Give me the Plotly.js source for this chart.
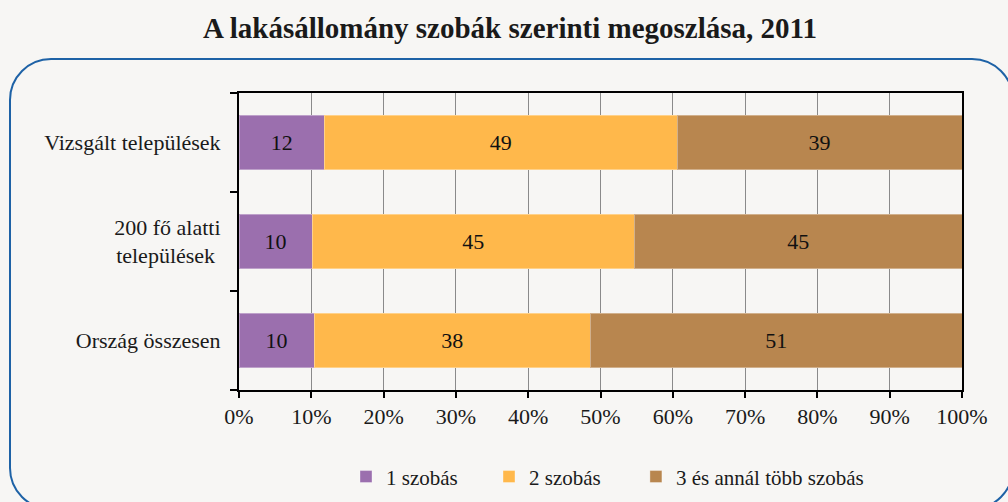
<!DOCTYPE html>
<html>
<head>
<meta charset="utf-8">
<script src="https://cdn.plot.ly/plotly-3.0.1.min.js"></script>
<style>
  html, body { margin:0; padding:0; background:#f7f6f4; }
  #wrap { position:relative; width:1008px; height:502px; overflow:hidden; background:#f7f6f4; }
  #frame { position:absolute; left:9px; top:58px; width:1005px; height:452px; border:2px solid #1e62a6; border-radius:42px; box-sizing:border-box; }
  #chart { position:absolute; left:0; top:0; width:1008px; height:502px; }
</style>
</head>
<body>
<div id="wrap">
  <div id="frame"></div>
  <div id="chart"></div>
</div>
<script>
// Categories (top to bottom in the picture)
var categories = ['Vizsgált települések', '200 fő alatti<br>települések ', 'Ország összesen'];
// Shares (%)
var oneRoom   = [11.8, 10.1, 10.4];
var twoRoom   = [48.8, 44.6, 38.2];
var threePlus = [39.4, 45.3, 51.4];
// Data labels as printed
var oneLabels   = ['12', '10', '10'];
var twoLabels   = ['49', '45', '38'];
var threeLabels = ['39', '45', '51'];
var seriesNames = ['1 szobás', '2 szobás', '3 és annál több szobás'];
var xTicks = [0, 10, 20, 30, 40, 50, 60, 70, 80, 90, 100];
var xTickLabels = ['0%', '10%', '20%', '30%', '40%', '50%', '60%', '70%', '80%', '90%', '100%'];

var colors = ['#9b6fae', '#ffb84b', '#b8864f'];
var font = '"Liberation Serif", "Times New Roman", serif';

function tr(vals, labels, name, color, legendId) {
  return {
    type: 'bar', orientation: 'h', y: categories, x: vals, name: name,
    text: labels, textposition: 'inside', insidetextanchor: 'middle',
    textfont: {family: font, size: 22, color: '#111'},
    constraintext: 'none', legend: legendId,
    marker: {color: color, line: {color: 'rgba(255,255,255,0.35)', width: 1}},
    hoverinfo: 'x+y'
  };
}

var data = [
  tr(oneRoom, oneLabels, seriesNames[0], colors[0], 'legend'),
  tr(twoRoom, twoLabels, seriesNames[1], colors[1], 'legend'),
  tr(threePlus, threeLabels, seriesNames[2], colors[2], 'legend2')
];

var legendFont = {family: font, size: 21, color: '#1a1a1a'};

var layout = {
  width: 1008, height: 502,
  paper_bgcolor: 'rgba(0,0,0,0)', plot_bgcolor: 'rgba(0,0,0,0)',
  margin: {l: 239, r: 46, t: 93, b: 112, pad: 0},
  barmode: 'stack', bargap: 0.45,
  font: {family: font, size: 21, color: '#1a1a1a'},
  title: {text: '<b>A lakásállomány szobák szerinti megoszlása, 2011</b>',
          font: {family: font, size: 29, color: '#1a1a1a'},
          x: 0.506, xref: 'container', xanchor: 'center', y: 0.945, yref: 'container', yanchor: 'middle'},
  xaxis: {
    range: [0, 100], tickvals: xTicks, ticktext: xTickLabels,
    showgrid: true, gridcolor: '#8a8a8a', gridwidth: 1,
    showline: true, linecolor: '#000', linewidth: 2, mirror: true,
    ticks: 'outside', ticklen: 6, tickwidth: 2, tickcolor: '#000',
    tickfont: {family: font, size: 22, color: '#1a1a1a'}, zeroline: false,
    fixedrange: true, automargin: false
  },
  yaxis: {
    categoryorder: 'array', categoryarray: categories.slice().reverse(),
    showline: true, linecolor: '#000', linewidth: 2, mirror: true,
    ticks: 'outside', ticklen: 7, tickwidth: 2, tickcolor: '#000', tickson: 'boundaries',
    tickfont: {family: font, size: 22, color: '#1a1a1a'}, ticklabelstandoff: 12,
    showgrid: false, fixedrange: true, automargin: false
  },
  showlegend: true,
  legend: {orientation: 'h', x: 0.148, xanchor: 'left', xref: 'paper',
           y: 0.05, yanchor: 'middle', yref: 'container',
           font: legendFont, bgcolor: 'rgba(0,0,0,0)',
           itemwidth: 30, entrywidth: 98, traceorder: 'normal'},
  legend2: {orientation: 'h', x: 0.549, xanchor: 'left', xref: 'paper',
           y: 0.05, yanchor: 'middle', yref: 'container',
           font: legendFont, bgcolor: 'rgba(0,0,0,0)',
           itemwidth: 30, traceorder: 'normal'}
};

Plotly.newPlot('chart', data, layout, {displayModeBar: false, staticPlot: true});
</script>
</body>
</html>
